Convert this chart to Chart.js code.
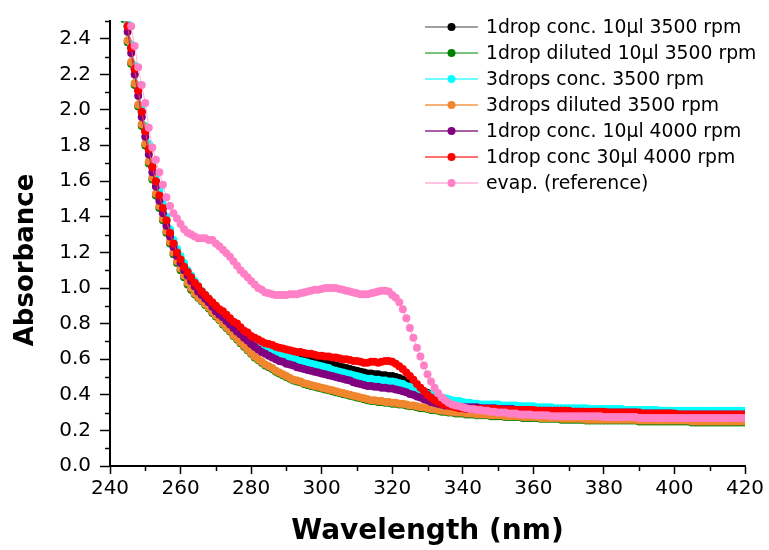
<!DOCTYPE html>
<html>
<head>
<meta charset="utf-8">
<script src="https://cdn.jsdelivr.net/npm/chart.js@4.4.0/dist/chart.umd.min.js"></script>
<style>
  html, body { margin: 0; padding: 0; background: #fff; }
  canvas { display: block; }
</style>
</head>
<body>
<canvas id="chart" width="769" height="550"></canvas>
<script>
// Wavelength grid (nm), one reading per nm
const wavelength = [];
for (let w = 244; w <= 420; w++) wavelength.push(w);

const seriesNames = [
    '1drop conc. 10µl 3500 rpm',
    '1drop diluted 10µl 3500 rpm',
    '3drops conc. 3500 rpm',
    '3drops diluted 3500 rpm',
    '1drop conc. 10µl 4000 rpm',
    '1drop conc 30µl 4000 rpm',
    'evap. (reference)'
];

// Absorbance values, 244..420 nm
const conc1drop3500 = [
    2.60, 2.47, 2.35, 2.23, 2.11, 1.99,
    1.88, 1.78, 1.68, 1.60, 1.52, 1.45, 1.38, 1.31, 1.25, 1.20,
    1.16, 1.12, 1.09, 1.06, 1.03, 1.00, 0.98, 0.955, 0.935, 0.915,
    0.895, 0.875, 0.86, 0.84, 0.825, 0.805, 0.79, 0.77, 0.755, 0.74,
    0.725, 0.71, 0.70, 0.69, 0.68, 0.67, 0.66, 0.655, 0.645, 0.64,
    0.635, 0.63, 0.62, 0.615, 0.61, 0.605, 0.60, 0.595, 0.59, 0.585,
    0.58, 0.58, 0.575, 0.57, 0.565, 0.56, 0.555, 0.55, 0.545, 0.54,
    0.535, 0.53, 0.525, 0.52, 0.52, 0.515, 0.515, 0.51, 0.51, 0.505,
    0.505, 0.50, 0.495, 0.485, 0.475, 0.465, 0.455, 0.44, 0.43, 0.42,
    0.41, 0.40, 0.395, 0.39, 0.38, 0.375, 0.365, 0.36, 0.355, 0.35,
    0.345, 0.34, 0.34, 0.335, 0.335, 0.33, 0.33, 0.33, 0.33, 0.33,
    0.33, 0.325, 0.325, 0.325, 0.325, 0.325, 0.32, 0.32, 0.32, 0.32,
    0.32, 0.315, 0.315, 0.315, 0.315, 0.315, 0.315, 0.315, 0.315, 0.315,
    0.315, 0.31, 0.31, 0.31, 0.31, 0.31, 0.305, 0.305, 0.305, 0.305,
    0.305, 0.30, 0.30, 0.30, 0.30, 0.30, 0.30, 0.30, 0.30, 0.30,
    0.30, 0.295, 0.295, 0.295, 0.295, 0.295, 0.295, 0.295, 0.295, 0.295,
    0.295, 0.29, 0.29, 0.29, 0.29, 0.29, 0.29, 0.29, 0.29, 0.29,
    0.29, 0.29, 0.29, 0.29, 0.29, 0.29, 0.29, 0.29, 0.29, 0.29,
    0.29
];

const dil1drop3500 = [
    2.51, 2.38, 2.26, 2.14, 2.02, 1.91,
    1.80, 1.70, 1.61, 1.52, 1.45, 1.38, 1.31, 1.25, 1.19, 1.14,
    1.10, 1.06, 1.02, 0.99, 0.965, 0.945, 0.925, 0.905, 0.885, 0.86,
    0.84, 0.82, 0.795, 0.775, 0.755, 0.73, 0.71, 0.69, 0.67, 0.65,
    0.63, 0.61, 0.595, 0.58, 0.565, 0.555, 0.545, 0.53, 0.52, 0.51,
    0.50, 0.49, 0.48, 0.475, 0.47, 0.46, 0.455, 0.45, 0.445, 0.44,
    0.435, 0.43, 0.425, 0.42, 0.415, 0.41, 0.405, 0.40, 0.395, 0.39,
    0.385, 0.38, 0.375, 0.37, 0.365, 0.365, 0.36, 0.36, 0.355, 0.355,
    0.35, 0.35, 0.345, 0.345, 0.34, 0.335, 0.335, 0.33, 0.325, 0.325,
    0.32, 0.315, 0.315, 0.31, 0.305, 0.305, 0.30, 0.30, 0.295, 0.295,
    0.295, 0.29, 0.29, 0.29, 0.285, 0.285, 0.285, 0.285, 0.28, 0.28,
    0.28, 0.28, 0.275, 0.275, 0.275, 0.275, 0.275, 0.27, 0.27, 0.27,
    0.27, 0.27, 0.265, 0.265, 0.265, 0.265, 0.265, 0.265, 0.26, 0.26,
    0.26, 0.26, 0.26, 0.26, 0.26, 0.255, 0.255, 0.255, 0.255, 0.255,
    0.255, 0.255, 0.255, 0.255, 0.255, 0.255, 0.255, 0.255, 0.255, 0.255,
    0.25, 0.25, 0.25, 0.25, 0.25, 0.25, 0.25, 0.25, 0.25, 0.25,
    0.25, 0.25, 0.25, 0.25, 0.25, 0.245, 0.245, 0.245, 0.245, 0.245,
    0.245, 0.245, 0.245, 0.245, 0.245, 0.245, 0.245, 0.245, 0.245, 0.245,
    0.245
];

const conc3drops3500 = [
    2.62, 2.49, 2.37, 2.25, 2.14, 2.02,
    1.91, 1.81, 1.71, 1.63, 1.55, 1.47, 1.40, 1.33, 1.27, 1.22,
    1.18, 1.14, 1.10, 1.07, 1.04, 1.01, 0.98, 0.96, 0.94, 0.915,
    0.895, 0.875, 0.855, 0.84, 0.82, 0.80, 0.785, 0.765, 0.75, 0.735,
    0.72, 0.705, 0.69, 0.68, 0.67, 0.66, 0.65, 0.64, 0.635, 0.625,
    0.62, 0.61, 0.605, 0.595, 0.59, 0.585, 0.58, 0.575, 0.57, 0.565,
    0.56, 0.555, 0.55, 0.54, 0.535, 0.53, 0.525, 0.52, 0.515, 0.51,
    0.505, 0.50, 0.495, 0.49, 0.49, 0.485, 0.485, 0.48, 0.48, 0.475,
    0.475, 0.47, 0.465, 0.46, 0.45, 0.445, 0.435, 0.425, 0.42, 0.41,
    0.405, 0.40, 0.395, 0.39, 0.385, 0.38, 0.375, 0.37, 0.365, 0.365,
    0.36, 0.355, 0.355, 0.35, 0.35, 0.345, 0.345, 0.345, 0.345, 0.345,
    0.345, 0.34, 0.34, 0.34, 0.34, 0.34, 0.335, 0.335, 0.335, 0.335,
    0.335, 0.33, 0.33, 0.33, 0.33, 0.33, 0.325, 0.325, 0.325, 0.325,
    0.325, 0.325, 0.325, 0.325, 0.325, 0.325, 0.32, 0.32, 0.32, 0.32,
    0.32, 0.32, 0.32, 0.32, 0.32, 0.32, 0.315, 0.315, 0.315, 0.315,
    0.315, 0.315, 0.315, 0.315, 0.315, 0.315, 0.31, 0.31, 0.31, 0.31,
    0.31, 0.31, 0.31, 0.31, 0.31, 0.31, 0.31, 0.31, 0.31, 0.31,
    0.31, 0.31, 0.31, 0.31, 0.31, 0.31, 0.31, 0.31, 0.31, 0.31,
    0.31
];

const dil3drops3500 = [
    2.52, 2.39, 2.27, 2.15, 2.03, 1.92,
    1.81, 1.71, 1.62, 1.53, 1.46, 1.39, 1.32, 1.26, 1.20, 1.15,
    1.11, 1.07, 1.03, 1.00, 0.97, 0.95, 0.93, 0.91, 0.89, 0.865,
    0.845, 0.825, 0.80, 0.78, 0.76, 0.735, 0.715, 0.695, 0.675, 0.655,
    0.635, 0.615, 0.60, 0.585, 0.57, 0.56, 0.55, 0.535, 0.525, 0.515,
    0.505, 0.495, 0.485, 0.48, 0.475, 0.465, 0.46, 0.455, 0.45, 0.445,
    0.44, 0.435, 0.43, 0.425, 0.42, 0.415, 0.41, 0.405, 0.40, 0.395,
    0.39, 0.385, 0.38, 0.375, 0.37, 0.37, 0.365, 0.365, 0.36, 0.36,
    0.355, 0.355, 0.35, 0.35, 0.345, 0.34, 0.34, 0.335, 0.33, 0.33,
    0.325, 0.32, 0.32, 0.315, 0.31, 0.31, 0.305, 0.305, 0.30, 0.30,
    0.30, 0.295, 0.295, 0.295, 0.29, 0.29, 0.29, 0.29, 0.285, 0.285,
    0.285, 0.285, 0.28, 0.28, 0.28, 0.28, 0.28, 0.275, 0.275, 0.275,
    0.275, 0.275, 0.27, 0.27, 0.27, 0.27, 0.27, 0.27, 0.265, 0.265,
    0.265, 0.265, 0.265, 0.265, 0.265, 0.26, 0.26, 0.26, 0.26, 0.26,
    0.26, 0.26, 0.26, 0.26, 0.26, 0.26, 0.26, 0.26, 0.26, 0.26,
    0.255, 0.255, 0.255, 0.255, 0.255, 0.255, 0.255, 0.255, 0.255, 0.255,
    0.255, 0.255, 0.255, 0.255, 0.255, 0.25, 0.25, 0.25, 0.25, 0.25,
    0.25, 0.25, 0.25, 0.25, 0.25, 0.25, 0.25, 0.25, 0.25, 0.25,
    0.25
];

const conc1drop4000 = [
    2.57, 2.44, 2.32, 2.20, 2.08, 1.96,
    1.85, 1.75, 1.65, 1.57, 1.49, 1.42, 1.35, 1.29, 1.23, 1.18,
    1.14, 1.10, 1.07, 1.04, 1.01, 0.98, 0.96, 0.94, 0.92, 0.895,
    0.87, 0.85, 0.835, 0.815, 0.795, 0.775, 0.755, 0.74, 0.72, 0.705,
    0.685, 0.67, 0.655, 0.64, 0.63, 0.62, 0.61, 0.60, 0.59, 0.585,
    0.575, 0.57, 0.565, 0.555, 0.55, 0.545, 0.54, 0.535, 0.53, 0.525,
    0.52, 0.515, 0.51, 0.505, 0.50, 0.495, 0.49, 0.485, 0.48, 0.47,
    0.465, 0.46, 0.455, 0.45, 0.45, 0.445, 0.445, 0.44, 0.44, 0.435,
    0.435, 0.43, 0.425, 0.42, 0.415, 0.405, 0.40, 0.39, 0.385, 0.375,
    0.37, 0.36, 0.355, 0.35, 0.345, 0.34, 0.34, 0.335, 0.335, 0.33,
    0.33, 0.33, 0.33, 0.33, 0.33, 0.325, 0.325, 0.325, 0.325, 0.325,
    0.32, 0.32, 0.32, 0.32, 0.32, 0.315, 0.315, 0.315, 0.315, 0.315,
    0.31, 0.31, 0.31, 0.31, 0.31, 0.31, 0.31, 0.31, 0.31, 0.31,
    0.305, 0.305, 0.305, 0.305, 0.305, 0.30, 0.30, 0.30, 0.30, 0.30,
    0.30, 0.30, 0.30, 0.30, 0.30, 0.30, 0.30, 0.30, 0.30, 0.30,
    0.295, 0.295, 0.295, 0.295, 0.295, 0.295, 0.295, 0.295, 0.295, 0.295,
    0.29, 0.29, 0.29, 0.29, 0.29, 0.29, 0.29, 0.29, 0.29, 0.29,
    0.29, 0.29, 0.29, 0.29, 0.29, 0.29, 0.29, 0.29, 0.29, 0.29,
    0.29
];

const conc30ul4000 = [
    2.60, 2.47, 2.35, 2.23, 2.11, 1.99,
    1.88, 1.78, 1.68, 1.60, 1.52, 1.45, 1.38, 1.31, 1.25, 1.20,
    1.16, 1.12, 1.09, 1.06, 1.03, 1.01, 0.98, 0.96, 0.94, 0.92,
    0.90, 0.88, 0.87, 0.85, 0.83, 0.81, 0.80, 0.78, 0.76, 0.75,
    0.73, 0.72, 0.71, 0.70, 0.69, 0.685, 0.68, 0.67, 0.665, 0.66,
    0.655, 0.65, 0.645, 0.64, 0.64, 0.635, 0.63, 0.63, 0.625, 0.62,
    0.62, 0.615, 0.615, 0.61, 0.61, 0.605, 0.60, 0.60, 0.595, 0.59,
    0.59, 0.585, 0.58, 0.58, 0.585, 0.585, 0.58, 0.585, 0.59, 0.59,
    0.585, 0.575, 0.56, 0.545, 0.525, 0.505, 0.485, 0.46, 0.44, 0.42,
    0.40, 0.385, 0.37, 0.36, 0.35, 0.345, 0.34, 0.335, 0.33, 0.325,
    0.325, 0.32, 0.32, 0.32, 0.32, 0.32, 0.32, 0.32, 0.32, 0.32,
    0.32, 0.315, 0.315, 0.315, 0.315, 0.315, 0.315, 0.315, 0.315, 0.315,
    0.315, 0.31, 0.31, 0.31, 0.31, 0.31, 0.31, 0.31, 0.31, 0.31,
    0.31, 0.305, 0.305, 0.305, 0.305, 0.305, 0.305, 0.305, 0.305, 0.305,
    0.305, 0.30, 0.30, 0.30, 0.30, 0.30, 0.30, 0.30, 0.30, 0.30,
    0.30, 0.295, 0.295, 0.295, 0.295, 0.295, 0.295, 0.295, 0.295, 0.295,
    0.295, 0.29, 0.29, 0.29, 0.29, 0.29, 0.29, 0.29, 0.29, 0.29,
    0.29, 0.29, 0.29, 0.29, 0.29, 0.29, 0.29, 0.29, 0.29, 0.29,
    0.29
];

const evapReference = [
    2.66, 2.56, 2.47, 2.36, 2.24, 2.14,
    2.04, 1.90, 1.79, 1.72, 1.65, 1.58, 1.51, 1.46, 1.42, 1.39,
    1.36, 1.33, 1.31, 1.30, 1.29, 1.28, 1.28, 1.28, 1.27, 1.27,
    1.25, 1.235, 1.215, 1.195, 1.175, 1.15, 1.125, 1.10, 1.08, 1.06,
    1.04, 1.02, 1.00, 0.99, 0.975, 0.97, 0.965, 0.96, 0.96, 0.96,
    0.96, 0.965, 0.965, 0.965, 0.97, 0.975, 0.98, 0.985, 0.99, 0.99,
    0.995, 1.00, 1.00, 1.00, 1.00, 0.995, 0.99, 0.985, 0.98, 0.975,
    0.97, 0.965, 0.965, 0.965, 0.97, 0.975, 0.98, 0.985, 0.985, 0.98,
    0.96, 0.945, 0.92, 0.88, 0.83, 0.775, 0.72, 0.665, 0.615, 0.565,
    0.515, 0.475, 0.44, 0.41, 0.385, 0.37, 0.355, 0.345, 0.34, 0.335,
    0.33, 0.325, 0.32, 0.32, 0.315, 0.315, 0.31, 0.31, 0.305, 0.305,
    0.30, 0.30, 0.30, 0.295, 0.295, 0.295, 0.29, 0.29, 0.29, 0.29,
    0.285, 0.285, 0.285, 0.285, 0.285, 0.28, 0.28, 0.28, 0.28, 0.28,
    0.28, 0.28, 0.28, 0.28, 0.28, 0.28, 0.28, 0.28, 0.28, 0.28,
    0.275, 0.275, 0.275, 0.275, 0.275, 0.275, 0.275, 0.275, 0.275, 0.275,
    0.27, 0.27, 0.27, 0.27, 0.27, 0.27, 0.27, 0.27, 0.27, 0.27,
    0.27, 0.27, 0.27, 0.27, 0.27, 0.27, 0.27, 0.27, 0.27, 0.27,
    0.27, 0.27, 0.27, 0.27, 0.27, 0.27, 0.27, 0.27, 0.27, 0.27,
    0.27
];

const allSeries = [conc1drop3500, dil1drop3500, conc3drops3500, dil3drops3500,
    conc1drop4000, conc30ul4000, evapReference];

// Styles: marker colour and (lighter) connecting line colour
const markerColors = ['#000000', '#008000', '#00ffff', '#f0862e', '#800080', '#ff0000', '#ff80c6'];
const lineColors = ['#808080', '#4caf50', '#40ffff', '#f59a4a', '#8a2a8a', '#ff4040', '#ffb0d8'];

const FONT = "'DejaVu Sans', sans-serif";

// Minor ticks, rotated y title and the in-plot legend
const extrasPlugin = {
    id: 'extras',
    afterDraw(chart) {
        const ctx = chart.ctx;
        const xs = chart.scales.x;
        const ys = chart.scales.y;
        const area = chart.chartArea;

        ctx.save();
        ctx.strokeStyle = '#000';
        ctx.lineWidth = 1.5;
        ctx.beginPath();
        for (let v = 1; v <= 25; v += 2) {
            const y = Math.round(ys.getPixelForValue(v / 10)) + 0.5;
            ctx.moveTo(area.left - 1, y);
            ctx.lineTo(area.left - 5, y);
        }
        for (let v = 250; v <= 410; v += 20) {
            const x = Math.round(xs.getPixelForValue(v)) + 0.5;
            ctx.moveTo(x, area.bottom + 1);
            ctx.lineTo(x, area.bottom + 5);
        }
        ctx.stroke();

        // y axis title
        ctx.save();
        ctx.translate(26, 260);
        ctx.rotate(-Math.PI / 2);
        ctx.font = 'bold 26px ' + FONT;
        ctx.fillStyle = '#000';
        ctx.textAlign = 'center';
        ctx.textBaseline = 'middle';
        ctx.fillText('Absorbance', 0, 0);
        ctx.restore();

        // legend
        ctx.font = '18.8px ' + FONT;
        ctx.textAlign = 'left';
        ctx.textBaseline = 'middle';
        seriesNames.forEach((name, i) => {
            const y = 27 + i * 26;
            ctx.strokeStyle = lineColors[i];
            ctx.lineWidth = 1.5;
            ctx.beginPath();
            ctx.moveTo(425, y);
            ctx.lineTo(478, y);
            ctx.stroke();
            ctx.fillStyle = markerColors[i];
            ctx.beginPath();
            ctx.arc(451.5, y, 4, 0, Math.PI * 2);
            ctx.fill();
            ctx.fillStyle = '#000';
            ctx.fillText(name, 486, y + 1);
        });
        ctx.restore();
    }
};

const datasets = allSeries.map((values, i) => ({
    label: seriesNames[i],
    data: wavelength.map((w, j) => ({ x: w, y: values[j] })),
    borderColor: lineColors[i],
    borderWidth: 1,
    backgroundColor: markerColors[i],
    pointBackgroundColor: markerColors[i],
    pointBorderColor: markerColors[i],
    pointBorderWidth: 0,
    pointRadius: 4,
    tension: 0,
    order: allSeries.length - i
}));

new Chart(document.getElementById('chart'), {
    type: 'line',
    data: { datasets: datasets },
    options: {
        responsive: false,
        animation: false,
        devicePixelRatio: 1,
        layout: { padding: { top: 15, right: 24, left: 0, bottom: 0 } },
        plugins: {
            legend: { display: false },
            tooltip: { enabled: false }
        },
        scales: {
            x: {
                type: 'linear',
                min: 240,
                max: 420,
                border: { display: true, color: '#000', width: 2 },
                grid: { drawOnChartArea: false, drawTicks: true, tickLength: 8, tickColor: '#000', tickWidth: 1.5 },
                ticks: { stepSize: 20, color: '#000', padding: 3, font: { family: FONT, size: 20 } },
                title: {
                    display: true,
                    text: 'Wavelength (nm)',
                    color: '#000',
                    font: { family: FONT, size: 28, weight: 'bold' },
                    padding: { top: 0, bottom: 1 }
                },
                afterFit: (scale) => { scale.height = 84; }
            },
            y: {
                min: 0,
                max: 2.5,
                border: { display: true, color: '#000', width: 2 },
                grid: { drawOnChartArea: false, drawTicks: true, tickLength: 10, tickColor: '#000', tickWidth: 1.5 },
                ticks: {
                    stepSize: 0.2,
                    includeBounds: false,
                    color: '#000',
                    padding: 9,
                    font: { family: FONT, size: 20 },
                    callback: (v) => v.toFixed(1)
                },
                afterFit: (scale) => { scale.width = 110; }
            }
        }
    },
    plugins: [extrasPlugin]
});
</script>
</body>
</html>
